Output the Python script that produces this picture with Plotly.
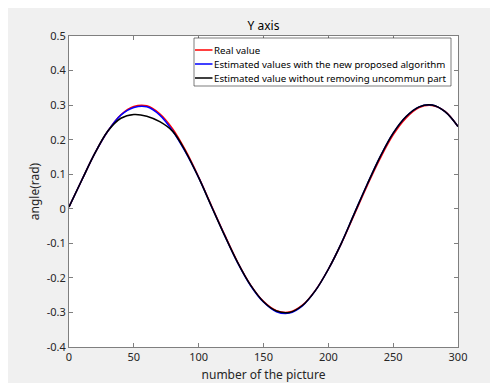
import plotly.graph_objects as go

# Data
x_vals = [0, 10, 20, 30, 40, 50, 60, 70, 80, 90, 100, 110, 120, 130, 140, 150,
          160, 170, 180, 190, 200, 210, 220, 230, 240, 250, 260, 270, 280, 290, 300]

real_value = [0.005, 0.084, 0.161, 0.225, 0.272, 0.296, 0.298, 0.275, 0.231, 0.168,
              0.092, 0.008, -0.075, -0.154, -0.220, -0.268, -0.295, -0.299, -0.279,
              -0.236, -0.175, -0.101, -0.017, 0.067, 0.146, 0.214, 0.263, 0.293,
              0.299, 0.282, 0.238]

estimated_new = [0.005, 0.084, 0.161, 0.225, 0.271, 0.293, 0.295, 0.271, 0.225, 0.163,
                 0.090, 0.006, -0.077, -0.156, -0.222, -0.270, -0.298, -0.302, -0.281,
                 -0.237, -0.175, -0.100, -0.014, 0.071, 0.151, 0.219, 0.267, 0.295,
                 0.300, 0.281, 0.238]

estimated_without = [0.005, 0.084, 0.161, 0.225, 0.262, 0.273, 0.268, 0.252, 0.224, 0.165,
                     0.090, 0.006, -0.077, -0.155, -0.221, -0.269, -0.296, -0.300, -0.280,
                     -0.237, -0.175, -0.100, -0.014, 0.071, 0.151, 0.219, 0.267, 0.295,
                     0.300, 0.281, 0.238]

series_names = ["Real value",
                "Estimated values with the new proposed algorithm",
                "Estimated value without removing uncommun part"]
series_colors = ["#ff0000", "#0000ff", "#000000"]

x_ticks = [0, 50, 100, 150, 200, 250, 300]
y_ticks = [-0.4, -0.3, -0.2, -0.1, 0, 0.1, 0.2, 0.3, 0.4, 0.5]
y_tick_labels = ["-0.4", "-0.3", "-0.2", "-0.1", "0", "0.1", "0.2", "0.3", "0.4", "0.5"]

FONT = "Noto Sans, Open Sans, DejaVu Sans, sans-serif"
TXT = "#262626"
AX = "#7f7f7f"

# page body has an 8px margin; figure sized to fill the rest of the window
W, H = 490, 375
L, T, PW, PH = 61, 28, 389, 311
OFF = 8  # screen offset of the figure


def px(sx):
    return (sx - OFF - L) / PW


def py(sy):
    return 1 - (sy - OFF - T) / PH


fig = go.Figure()
for ys, name, col in zip([real_value, estimated_new, estimated_without], series_names, series_colors):
    fig.add_trace(go.Scatter(x=x_vals, y=ys, mode="lines", name=name, showlegend=False,
                             line=dict(color=col, width=1.5, shape="spline", smoothing=1.0)))

# legend box drawn in the top right of the axes (MATLAB style)
shapes = [dict(type="rect", xref="paper", yref="paper",
               x0=px(194), x1=px(451), y0=py(86), y1=py(38),
               fillcolor="#ffffff", line=dict(color="#262626", width=0.6))]
annotations = []
row_y = [50, 64, 78]
for name, col, ry in zip(series_names, series_colors, row_y):
    shapes.append(dict(type="line", xref="paper", yref="paper",
                       x0=px(195), x1=px(212.5), y0=py(ry), y1=py(ry),
                       line=dict(color=col, width=1.5)))
    annotations.append(dict(xref="paper", yref="paper", x=px(212), y=py(ry),
                            xanchor="left", yanchor="middle", showarrow=False,
                            text=name, font=dict(family=FONT, size=9.7, color="#000000")))

axis_common = dict(showgrid=False, zeroline=False, showline=True, mirror="ticks",
                   linecolor=AX, linewidth=1, ticks="inside", ticklen=4, automargin=False,
                   tickcolor=AX, tickfont=dict(family=FONT, size=11, color=TXT))

fig.update_layout(
    width=W, height=H,
    margin=dict(l=L, r=W - L - PW, t=T, b=H - T - PH, autoexpand=False),
    paper_bgcolor="#f0f0f0",
    plot_bgcolor="#ffffff",
    font=dict(family=FONT, color=TXT),
    title=dict(text="Y axis", x=(L + PW / 2) / W, xanchor="center",
               y=1 - 18 / H, yanchor="middle", automargin=False,
               font=dict(family=FONT, size=12, color="#000000")),
    xaxis=dict(range=[0, 300], tickvals=x_ticks,
               title=dict(text="number of the picture", standoff=8,
                          font=dict(family=FONT, size=12, color=TXT)),
               **axis_common),
    yaxis=dict(range=[-0.4, 0.5], tickvals=y_ticks, ticktext=y_tick_labels,
               title=dict(text="angle(rad)", standoff=4,
                          font=dict(family=FONT, size=12, color=TXT)),
               **axis_common),
    showlegend=False,
    shapes=shapes,
    annotations=annotations,
)

fig.write_html("out.html")
